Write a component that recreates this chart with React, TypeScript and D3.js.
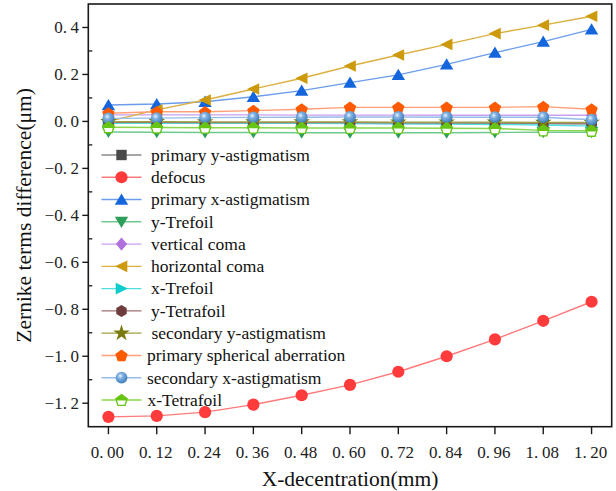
import React from "react";
import * as d3 from "d3";

const xValues = [0, 0.12, 0.24, 0.36, 0.48, 0.6, 0.72, 0.84, 0.96, 1.08, 1.2];
const xTickLabels = ["0.00", "0.12", "0.24", "0.36", "0.48", "0.60", "0.72", "0.84", "0.96", "1.08", "1.20"];
const yTicks = [0.4, 0.2, 0, -0.2, -0.4, -0.6, -0.8, -1.0, -1.2];
const yMinorTicks = [0.3, 0.1, -0.1, -0.3, -0.5, -0.7, -0.9, -1.1];

const primaryYAstig = [-0.006, -0.006, -0.007, -0.007, -0.008, -0.008, -0.009, -0.009, -0.01, -0.01, -0.011];
const defocus = [-1.258, -1.254, -1.238, -1.206, -1.166, -1.122, -1.066, -1.0, -0.928, -0.849, -0.768];
const primaryXAstig = [0.07, 0.074, 0.084, 0.105, 0.131, 0.165, 0.198, 0.243, 0.293, 0.34, 0.392];
const yTrefoil = [-0.045, -0.046, -0.047, -0.047, -0.048, -0.048, -0.048, -0.048, -0.047, -0.046, -0.046];
const verticalComa = [0.028, 0.028, 0.028, 0.028, 0.027, 0.027, 0.027, 0.026, 0.026, 0.026, 0.026];
const horizontalComa = [0.0, 0.049, 0.091, 0.138, 0.184, 0.236, 0.283, 0.328, 0.374, 0.41, 0.448];
const xTrefoil = [-0.008, -0.008, -0.008, -0.008, -0.008, -0.009, -0.01, -0.011, -0.013, -0.015, -0.02];
const yTetrafoil = [-0.004, -0.004, -0.005, -0.005, -0.005, -0.005, -0.006, -0.006, -0.006, -0.007, -0.007];
const secondaryYAstig = [-0.001, -0.001, -0.002, -0.002, -0.002, -0.002, -0.003, -0.003, -0.003, -0.004, -0.004];
const primarySpherical = [0.035, 0.041, 0.041, 0.046, 0.052, 0.06, 0.06, 0.06, 0.06, 0.063, 0.052];
const secondaryXAstig = [0.013, 0.014, 0.016, 0.017, 0.018, 0.019, 0.019, 0.018, 0.018, 0.018, 0.007];
const xTetrafoil = [-0.025, -0.026, -0.027, -0.027, -0.028, -0.028, -0.028, -0.029, -0.03, -0.038, -0.04];

const seriesNames = [
  "primary y-astigmatism",
  "defocus",
  "primary x-astigmatism",
  "y-Trefoil",
  "vertical coma",
  "horizontal coma",
  "x-Trefoil",
  "y-Tetrafoil",
  "secondary y-astigmatism",
  "primary spherical aberration",
  "secondary x-astigmatism",
  "x-Tetrafoil",
];
const seriesValues = [
  primaryYAstig, defocus, primaryXAstig, yTrefoil, verticalComa, horizontalComa,
  xTrefoil, yTetrafoil, secondaryYAstig, primarySpherical, secondaryXAstig, xTetrafoil,
];
const markerColors = ["#4a4a4a", "#ff3b3b", "#1566dd", "#2e9e5b", "#b070e0", "#cc9a0c", "#10cccc", "#6e3c3c", "#7a7a10", "#ff5a00", "#5b9bd5", "#66c414"];
const lineColors = ["#8a8a8a", "#ff7a7a", "#6c9cec", "#6cc990", "#c8a0f0", "#dcb040", "#50e0e0", "#a07070", "#a0a040", "#ffa078", "#96bce8", "#88d84a"];
const markerTypes = ["square", "circle", "up", "down", "diamond", "left", "right", "hexagon", "star", "pentagon", "sphere", "house"];
const legendTextX = [151, 151, 151, 151, 151, 151, 151, 151, 151.5, 147, 147, 147.5];

const L = 88.3, R = 611.7, T = 4, B = 426.7;

function poly(cx: number, cy: number, pts: [number, number][]) {
  return "M" + pts.map(([a, b]) => `${cx + a},${cy + b}`).join("L") + "Z";
}

function Marker({ type, cx, cy, color, idx }: { type: string; cx: number; cy: number; color: string; idx: number }) {
  const s = 6.1;
  switch (type) {
    case "square":
      return <rect x={cx - 5.2} y={cy - 5.2} width={10.4} height={10.4} fill={color} />;
    case "circle":
      return <circle cx={cx} cy={cy} r={6.1} fill={color} />;
    case "up":
      return <path d={poly(cx, cy, [[0, -s], [s * 1.1, s * 0.85], [-s * 1.1, s * 0.85]])} fill={color} />;
    case "down":
      return <path d={poly(cx, cy, [[0, s], [s * 1.1, -s * 0.85], [-s * 1.1, -s * 0.85]])} fill={color} />;
    case "left":
      return <path d={poly(cx, cy, [[-s * 1.05, 0], [s * 0.95, -s * 0.95], [s * 0.95, s * 0.95]])} fill={color} />;
    case "right":
      return <path d={poly(cx, cy, [[s * 1.05, 0], [-s * 0.95, -s * 0.95], [-s * 0.95, s * 0.95]])} fill={color} />;
    case "diamond":
      return <path d={poly(cx, cy, [[0, -6.6], [5.6, 0], [0, 6.6], [-5.6, 0]])} fill={color} />;
    case "hexagon": {
      const pts: [number, number][] = d3.range(6).map((i) => {
        const a = (Math.PI / 3) * i + Math.PI / 6;
        return [6.0 * Math.cos(a), 6.0 * Math.sin(a)];
      });
      return <path d={poly(cx, cy, pts)} fill={color} />;
    }
    case "star": {
      const p = d3.symbol().type(d3.symbolStar).size(85)();
      return <path d={p || ""} transform={`translate(${cx},${cy})`} fill={color} />;
    }
    case "pentagon": {
      const pts: [number, number][] = d3.range(5).map((i) => {
        const a = -Math.PI / 2 + (2 * Math.PI / 5) * i;
        return [6.5 * Math.cos(a), 6.5 * Math.sin(a) + 0.6];
      });
      return <path d={poly(cx, cy, pts)} fill={color} />;
    }
    case "sphere":
      return <circle cx={cx} cy={cy} r={5.9} fill="url(#sphereGrad)" />;
    case "house": {
      const pts: [number, number][] = d3.range(5).map((i) => {
        const a = -Math.PI / 2 + (2 * Math.PI / 5) * i;
        return [6.0 * Math.cos(a), 6.0 * Math.sin(a) + 0.6];
      });
      const clipId = `hclip${idx}`;
      return (
        <g>
          <clipPath id={clipId}>
            <rect x={cx - 8} y={cy - 8} width={16} height={8.6} />
          </clipPath>
          <path d={poly(cx, cy, pts)} fill="#ffffff" stroke={color} strokeWidth={1.3} />
          <path d={poly(cx, cy, pts)} fill={color} clipPath={`url(#${clipId})`} />
        </g>
      );
    }
  }
  return null;
}

function tickText(s: string) {
  const i = s.indexOf(".");
  return (
    <>
      {s.slice(0, i + 1)}
      <tspan dx={3.6}>{s.slice(i + 1)}</tspan>
    </>
  );
}

export default function App() {
  const x = d3.scaleLinear().domain([-0.05, 1.25]).range([L, R]);
  const y = d3.scaleLinear().domain([-1.3, 0.5]).range([B, T]);
  const line = d3
    .line<number>()
    .x((_, i) => x(xValues[i]))
    .y((d) => y(d));

  const legendY0 = 155;
  const legendStep = 22.27;
  let mk = 0;

  return (
    <svg width={616} height={491} style={{ position: "absolute", left: 0, top: 0, background: "#fff" }}>
      <defs>
        <radialGradient id="sphereGrad" cx="0.4" cy="0.35" r="0.65">
          <stop offset="0" stopColor="#e8f2fc" />
          <stop offset="0.35" stopColor="#7fb0e0" />
          <stop offset="1" stopColor="#3d7cba" />
        </radialGradient>
      </defs>
      <rect x={0} y={0} width={616} height={491} fill="#fff" />

      {seriesValues.map((vals, si) => (
        <g key={si}>
          <path d={line(vals) || ""} fill="none" stroke={lineColors[si]} strokeWidth={1.4} />
          {vals.map((v, i) => (
            <Marker key={i} type={markerTypes[si]} cx={x(xValues[i])} cy={y(v)} color={markerColors[si]} idx={mk++} />
          ))}
        </g>
      ))}

      {seriesNames.map((name, si) => {
        const ly = legendY0 + legendStep * si;
        return (
          <g key={name}>
            <line x1={101.5} x2={141.5} y1={ly} y2={ly} stroke={lineColors[si]} strokeWidth={1.4} />
            <Marker type={markerTypes[si]} cx={121.5} cy={ly} color={markerColors[si]} idx={1000 + si} />
            <text
              x={legendTextX[si]}
              y={ly + 5.8}
              fontFamily="'Liberation Serif', 'Times New Roman', serif"
              fontSize={17.5}
              fill="#111"
            >
              {name}
            </text>
          </g>
        );
      })}

      {/* frame */}
      <rect x={L} y={T} width={R - L} height={B - T} fill="none" stroke="#1a1a1a" strokeWidth={1.6} />

      {/* y ticks */}
      {yTicks.map((t) => (
        <g key={t}>
          <line x1={L - 6} x2={L} y1={y(t)} y2={y(t)} stroke="#1a1a1a" strokeWidth={1.4} />
          <text
            x={79}
            y={y(t) + 5.8}
            textAnchor="end"
            fontFamily="'Liberation Serif', serif"
            fontSize={17}
            fill="#222"
          >
            {tickText((t < 0 ? "\u2212" : "") + Math.abs(t).toFixed(1))}
          </text>
        </g>
      ))}
      {yMinorTicks.map((t) => (
        <line key={t} x1={L} x2={L + 4} y1={y(t)} y2={y(t)} stroke="#1a1a1a" strokeWidth={1.3} />
      ))}

      {/* x ticks */}
      {xValues.map((v, i) => (
        <g key={v}>
          <line x1={x(v)} x2={x(v)} y1={B} y2={B + 7.5} stroke="#1a1a1a" strokeWidth={1.4} />
          <text
            x={x(v) - 1}
            y={457.5}
            textAnchor="middle"
            fontFamily="'Liberation Serif', serif"
            fontSize={17}
            fill="#222"
          >
            {tickText(xTickLabels[i])}
          </text>
        </g>
      ))}

      <text
        x={(L + R) / 2}
        y={486}
        textAnchor="middle"
        fontFamily="'Liberation Serif', 'Times New Roman', serif"
        fontSize={21.5}
        fill="#111"
      >
        X-decentration(mm)
      </text>
      <text
        transform={`translate(31,${(T + B) / 2}) rotate(-90)`}
        textAnchor="middle"
        fontFamily="'Liberation Serif', 'Times New Roman', serif"
        fontSize={21.5}
        fill="#111"
      >
        Zernike terms difference(μm)
      </text>
    </svg>
  );
}
